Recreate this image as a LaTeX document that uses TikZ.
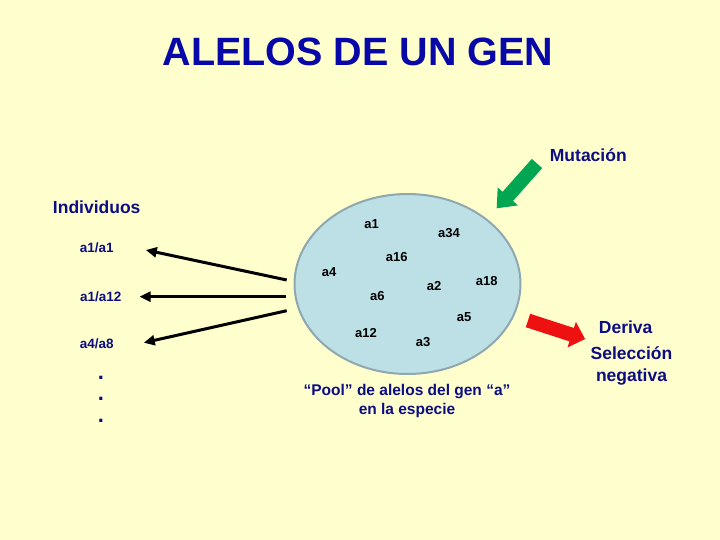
\documentclass[tikz,border=0pt]{standalone}
\usepackage{fontspec}
\setmainfont{Liberation Sans}
\usetikzlibrary{arrows.meta,shapes.geometric,calc}
\definecolor{slnavy}{HTML}{0C0C84}
\definecolor{sltitle}{HTML}{0808A8}
\definecolor{slpaper}{HTML}{FFFFCE}
\definecolor{slpool}{HTML}{BDE0E6}
\definecolor{slrim}{HTML}{8EA8AE}
\definecolor{slgreen}{HTML}{00A651}
\definecolor{slred}{HTML}{EE1111}

\begin{document}
\begin{tikzpicture}[
  x=1pt, y=-1pt,
  title/.style={font=\bfseries\fontsize{39.5}{46}\selectfont, text=sltitle, inner sep=0pt},
  force/.style={font=\bfseries\fontsize{17.5}{21.5}\selectfont, text=slnavy, align=center, inner sep=0pt},
  geno/.style={font=\bfseries\fontsize{13.5}{16}\selectfont, text=slnavy, inner sep=0pt},
  allele/.style={font=\bfseries\fontsize{13}{15}\selectfont, inner sep=0pt},
  poolnote/.style={font=\bfseries\fontsize{15.5}{19}\selectfont, text=slnavy, align=center, inner sep=0pt},
  pull/.style={-{Triangle[length=11pt,width=10pt]}, line width=3pt},
]
% ---- page ----
\fill[slpaper] (0,0) rectangle (720,540);
\useasboundingbox (0,0) rectangle (720,540);

% ---- title ----
\node[title, anchor=base] (ttl) at (358,65.7) {ALELOS DE UN GEN};

% ---- gene pool ----
\node[ellipse, draw=slrim, line width=2pt, fill=slpool, inner sep=0pt,
      minimum width=226, minimum height=180] (pool) at (407.5,284) {};
\foreach \lbl/\x/\y in {a1/371.7/224, a34/449/233.3, a16/396.7/256.7, a4/329/272.3,
                        a2/434/285.7, a18/486.7/281, a6/377.3/296, a5/464/317,
                        a12/366/333.3, a3/423/342}
  \node[allele] (p-\lbl) at (\x,\y) {\lbl};
\node[poolnote] (note) at (407,401) {``Pool'' de alelos del gen ``a''\\en la especie};

% ---- individuals ----
\node[force] (indiv) at (96.7,207.5) {Individuos};
\node[geno] (g1) at (96.7,247.5) {a1/a1};
\node[geno] (g2) at (100.7,296.5) {a1/a12};
\node[geno] (g3) at (96.7,344) {a4/a8};
\foreach \y [count=\i] in {379,400,422}
  \node[geno, font=\bfseries\fontsize{22}{24}\selectfont, anchor=base] (dot\i) at (101,\y) {.};

% ---- sampling arrows (pool -> individuals) ----
\coordinate (s1) at (286.7,280);
\coordinate (s2) at (286,296.7);
\coordinate (s3) at (286.7,310.7);
\draw[pull] (s1) -- ($(g1.east)+(32,2.5)$);
\draw[pull] (s2) -- ($(g2.east)+(18,0.2)$);
\draw[pull] (s3) -- ($(g3.east)+(30,-1.3)$);

% ---- forces ----
\node[force] (mut) at (588.3,155) {Mutación};
\node[force] (der) at (625.7,327) {Deriva};
\node[force] (sel) at (631.5,366) {Selección\\negativa};

% green block arrow (in)
\fill[slgreen] (531.8,158.9) -- (542.2,168.1) -- (513.0,201.0) -- (517.9,205.4)
  -- (496.7,208.3) -- (497.7,187.4) -- (502.6,191.8) -- cycle;
% red block arrow (out)
\fill[slred] (530.2,313.8) -- (573.9,328.0) -- (575.9,321.9) -- (585.1,339.0)
  -- (567.5,347.5) -- (569.5,341.4) -- (525.8,327.2) -- cycle;
\end{tikzpicture}
\end{document}
